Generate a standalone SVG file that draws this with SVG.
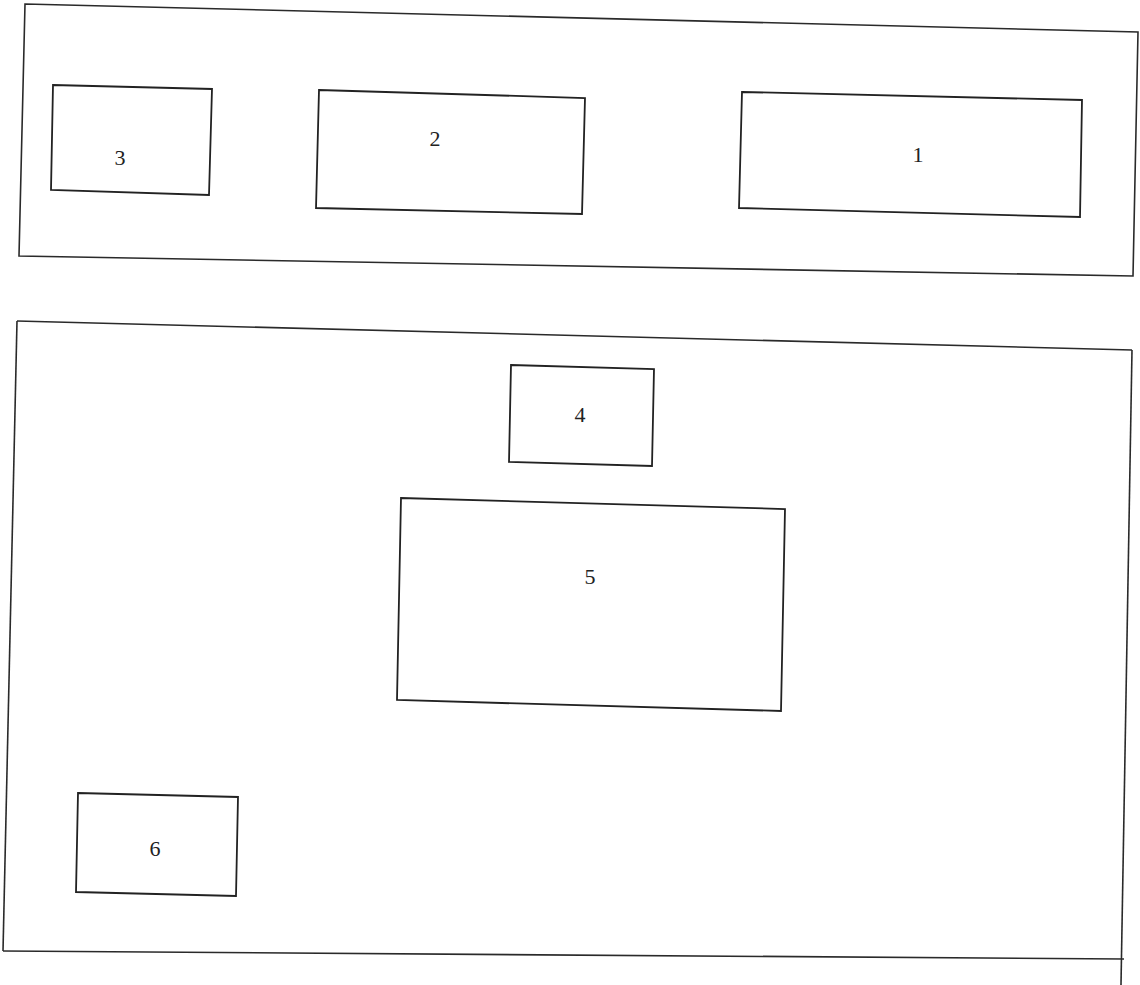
<svg xmlns="http://www.w3.org/2000/svg" width="1140" height="985" viewBox="0 0 1140 985">
<style>
.f{fill:none;stroke:#2a2a2a;stroke-width:1.6;stroke-linejoin:miter}
.b{fill:#fff;stroke:#222;stroke-width:1.8}
.t{font-family:"Liberation Serif","Times New Roman",serif;font-size:22px;fill:#222;text-anchor:middle}
</style>
<rect width="1140" height="985" fill="#fff"/>
<g id="frame-top"><polygon class="f" points="25,4 1138,32 1133,276 19,256"/></g>
<g id="frame-bottom">
<line class="f" x1="17" y1="321" x2="1132" y2="350"/>
<line class="f" x1="1132" y1="350" x2="1121" y2="985"/>
<line class="f" x1="3" y1="951" x2="1124" y2="959"/>
<line class="f" x1="17" y1="321" x2="3" y2="951"/>
</g>
<g id="node-3"><polygon class="b" points="53,85 212,89 209,195 51,190"/><text class="t" x="120" y="165">3</text></g>
<g id="node-2"><polygon class="b" points="319,90 585,98 582,214 316,208"/><text class="t" x="435" y="146">2</text></g>
<g id="node-1"><polygon class="b" points="742,92 1082,100 1080,217 739,208"/><text class="t" x="918" y="162">1</text></g>
<g id="node-4"><polygon class="b" points="511,365 654,369 652,466 509,462"/><text class="t" x="580" y="422">4</text></g>
<g id="node-5"><polygon class="b" points="401,498 785,509 781,711 397,700"/><text class="t" x="590" y="584">5</text></g>
<g id="node-6"><polygon class="b" points="78,793 238,797 236,896 76,892"/><text class="t" x="155" y="856">6</text></g>
<g id="connectors"></g>
</svg>
